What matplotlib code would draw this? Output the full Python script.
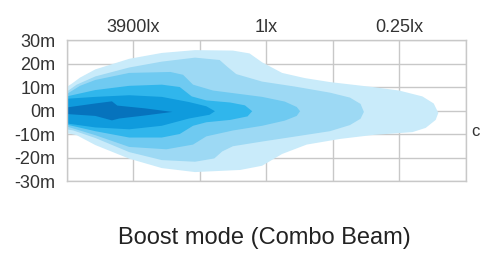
import matplotlib
import matplotlib.pyplot as plt

matplotlib.rcParams["font.family"] = ["Liberation Sans", "DejaVu Sans"]

# axis labels
x_ticks = [1, 3, 5]
distance_labels = ["10m", "624m", "1249m"]
lux_labels = ["3900lx", "1lx", "0.25lx"]
y_ticks = [30, 20, 10, 0, -10, -20, -30]
y_labels = ["30m", "20m", "10m", "0m", "-10m", "-20m", "-30m"]
title = "Boost mode (Combo Beam)"

# beam iso-lux outlines, outermost first: (grid column, metres)
layer_lightest = [
    (0, 10), (0.08, 11.5), (0.2, 14), (0.43, 17.5), (0.94, 22), (1.43, 24.5), (1.93, 25.7),
    (2.5, 25.5), (2.75, 24.3), (2.94, 20.5), (3.24, 16), (3.58, 13.8), (3.96, 12.1),
    (4.6, 10), (5.0, 8.5), (5.35, 6), (5.52, 3), (5.59, -1),
    (5.55, -4), (5.4, -7.4), (5.2, -9.2), (4.61, -10.4), (4.11, -12.1), (3.61, -14.5),
    (3.24, -18.5), (2.94, -23.5), (2.61, -25.3), (1.93, -26.2), (1.43, -24.5),
    (0.94, -20.5), (0.43, -14.7), (0.15, -10.5), (0, -9.6),
]
layer_light = [
    (0, 8), (0.15, 11), (0.43, 14.5), (0.94, 18.3), (1.43, 20.8), (1.93, 22.5), (2.3, 21.5),
    (2.42, 18.5), (2.55, 15.5), (2.94, 12.3), (3.43, 10.2), (3.96, 7.6), (4.26, 5.5),
    (4.42, 2.8), (4.47, -0.6),
    (4.42, -3.5), (4.26, -6.2), (3.96, -8.8), (3.43, -11.1), (2.94, -13.2), (2.5, -15.2),
    (2.34, -17.4), (2.22, -20.4), (1.93, -21.8), (1.43, -21.1), (0.94, -17.7),
    (0.43, -11.7), (0.1, -8.5), (0, -8),
]
layer_mid = [
    (0, 7), (0.2, 10.5), (0.43, 13), (0.94, 16), (1.56, 16.4), (1.75, 15.2), (1.9, 11),
    (2.2, 8.5), (2.94, 5.8), (3.28, 3.8), (3.46, 1.5), (3.51, -0.3),
    (3.46, -2.3), (3.28, -4.3), (2.94, -6.5), (2.5, -8.5), (2.1, -11), (1.9, -14.5),
    (1.5, -16.5), (0.94, -15.5), (0.43, -10.5), (0, -6.8),
]
layer_bright = [
    (0, 6), (0.43, 8.7), (0.94, 10.5), (1.43, 11), (1.7, 10), (1.88, 6), (2.1, 4.3),
    (2.46, 3.4), (2.68, 2.2), (2.79, -0.3),
    (2.72, -2.5), (2.46, -4), (2.1, -5), (1.9, -6.5), (1.7, -10), (1.43, -11.5),
    (0.94, -11.5), (0.43, -8.8), (0, -6),
]
layer_deep = [
    (0, 5), (0.43, 5.8), (0.94, 6.5), (1.43, 5.8), (1.84, 3.6), (2.1, 1.8), (2.23, -0.3),
    (2.15, -1.8), (1.84, -3.4), (1.43, -6.5), (0.94, -8), (0.43, -7.2), (0, -5.5),
]
layer_core = [
    (0, 1.3), (0.43, 3.0), (0.68, 3.9), (0.76, 2.1), (1.18, 0.9), (1.59, -0.6),
    (1.18, -2.1), (0.79, -3.4), (0.68, -4.2), (0.43, -2.3), (0, -1.5),
]

layers = [layer_lightest, layer_light, layer_mid, layer_bright, layer_deep, layer_core]
colors = ["#c9ebfa", "#9dd9f4", "#6fcaf1", "#30b6ec", "#0f9bdd", "#0673bd"]

fig = plt.figure(figsize=(4.8, 2.61), dpi=100)
ax = fig.add_axes([0.139, 0.3065, 0.831, 0.5402])

for pts, c in zip(layers, colors):
    xs = [p[0] for p in pts]
    ys = [p[1] for p in pts]
    ax.fill(xs, ys, color=c, lw=0, zorder=2)

ax.set_xlim(0, 6)
ax.set_ylim(-30, 30)
ax.set_xticks(range(0, 7), minor=False)
ax.set_yticks(y_ticks)
ax.grid(True, color="#c8c8c8", lw=1.0, zorder=1)
ax.set_axisbelow(True)
for s in ax.spines.values():
    s.set_color("#c8c8c8")
    s.set_linewidth(1.0)

ax.set_xticks(x_ticks, distance_labels, minor=True)
ax.set_xticklabels([])
ax.tick_params(axis="x", which="major", length=0)
ax.tick_params(axis="x", which="minor", length=0, pad=4, labelsize=13, colors="#333333")
ax.set_yticklabels(y_labels)
ax.tick_params(axis="y", length=0, pad=8, labelsize=13, colors="#333333")

top = ax.secondary_xaxis("top")
top.set_xticks(x_ticks, lux_labels)
top.tick_params(length=0, pad=3, labelsize=13, colors="#333333")
top.spines["top"].set_visible(False)

fig.text(0.55, 0.088, title, ha="center", va="center", fontsize=17, color="#222222")
fig.text(0.982, 0.498, "c", ha="left", va="center", fontsize=12, color="#333333")

fig.savefig("out.png", dpi=100)
